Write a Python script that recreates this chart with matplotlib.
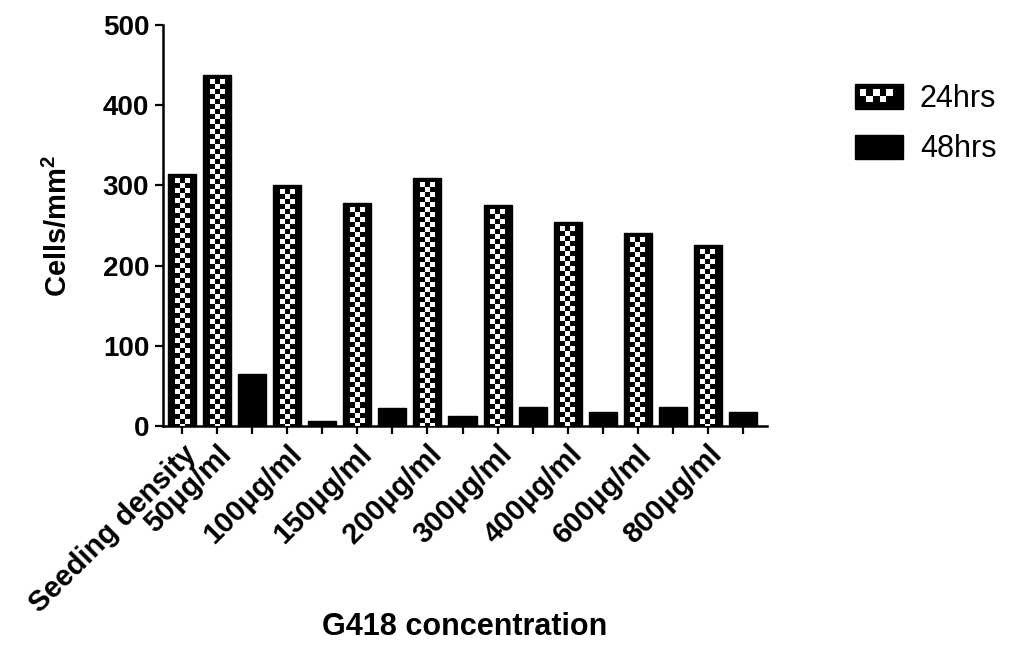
import numpy as np
import matplotlib.pyplot as plt
from matplotlib.patches import Rectangle
from matplotlib.legend_handler import HandlerBase

plt.rcParams["font.family"] = ["Liberation Sans", "DejaVu Sans"]
plt.rcParams["mathtext.fontset"] = "custom"
plt.rcParams["mathtext.rm"] = "Liberation Sans:bold"
plt.rcParams["mathtext.bf"] = "Liberation Sans:bold"

categories = ["Seeding density", "50μg/ml", "100μg/ml", "150μg/ml", "200μg/ml",
              "300μg/ml", "400μg/ml", "600μg/ml", "800μg/ml"]
cells_24h = [314, 438, 301, 278, 309, 276, 254, 241, 226]
cells_48h = [65, 6, 22, 12, 24, 17, 24, 17]  # no 48h count for seeding density
series_labels = ["24hrs", "48hrs"]
y_ticks = [0, 100, 200, 300, 400, 500]

# seeding density stands alone, then one 24h/48h pair per concentration
pos_24 = np.array([0] + [2 * i - 1 for i in range(1, len(categories))])
pos_48 = pos_24[1:] + 1
n_slots = pos_48[-1] + 1
bar_w = 0.8


class CheckerHandler(HandlerBase):
    """Legend key: black box with two staggered rows of white squares."""

    def create_artists(self, legend, orig_handle, xdescent, ydescent,
                       width, height, fontsize, trans):
        x0, y0 = -xdescent, -ydescent
        arts = [Rectangle((x0, y0), width, height, facecolor="black",
                          edgecolor="black", transform=trans)]
        cw, ch = 0.138 * width, 0.25 * height
        top = y0 + height * (1 - 0.215)
        for r, cols in ((0, (0, 2, 4)), (1, (1, 3))):
            for c in cols:
                arts.append(Rectangle((x0 + 0.1 * width + c * cw, top - (r + 1) * ch),
                                      cw, ch, facecolor="white", edgecolor="none",
                                      transform=trans))
        return arts


fig = plt.figure(figsize=(10.13, 6.46), dpi=100)
ax = fig.add_axes([0.161, 0.3406, 0.596, 0.6207])
ax.set_xlim(-0.54, n_slots - 1 + 0.68)
ax.set_ylim(0, 500)

bars24 = ax.bar(pos_24, cells_24h, width=bar_w, color="black",
                edgecolor="black", linewidth=1, zorder=2)
bars48 = ax.bar(pos_48, cells_48h, width=bar_w, color="black",
                edgecolor="black", linewidth=1, zorder=2)

# checker fill with squares of fixed pixel size
fig_w_px, fig_h_px = fig.get_size_inches() * fig.dpi
bb = ax.get_position()
px_x = bb.width * fig_w_px / np.diff(ax.get_xlim())[0]
px_y = bb.height * fig_h_px / np.diff(ax.get_ylim())[0]
sq = 5.0
sw, sh = sq / px_x, sq / px_y
ncol = 3
for rect in bars24:
    x0 = rect.get_x() + (rect.get_width() - ncol * sw) / 2
    top = rect.get_height() - 4.5 / px_y
    nrow = int(np.ceil(top / sh))
    rr, cc = np.indices((nrow, ncol))
    tile = ((rr + cc) % 2 == 0).astype(float)
    ax.imshow(tile, cmap="gray", vmin=0, vmax=1, interpolation="nearest",
              aspect="auto", extent=(x0, x0 + ncol * sw, top - nrow * sh, top),
              zorder=3, clip_path=rect)

ax.set_xlim(-0.54, n_slots - 1 + 0.68)
ax.set_ylim(0, 500)

tick_labels = [""] * n_slots
for p, c in zip(pos_24, categories):
    tick_labels[p] = c
ax.set_xticks(np.arange(n_slots))
ax.set_xticklabels(tick_labels, rotation=45, ha="right", rotation_mode="anchor",
                   fontsize=21, fontweight="bold")
ax.set_yticks(y_ticks)
ax.set_yticklabels([str(v) for v in y_ticks], fontsize=20, fontweight="bold")

for side in ("top", "right"):
    ax.spines[side].set_visible(False)
for side in ("left", "bottom"):
    ax.spines[side].set_linewidth(1.8)
ax.tick_params(direction="out", length=6, width=1.6, pad=4)

ax.set_xlabel("G418 concentration", fontsize=22, fontweight="bold")
ax.xaxis.set_label_coords(0.5, -0.465)
ax.set_ylabel(r"Cells/mm$^2$", fontsize=21, fontweight="bold")
ax.yaxis.set_label_coords(-0.15, 0.5)

ax.legend([bars24, bars48], series_labels, handler_map={bars24: CheckerHandler()},
          loc="upper left", bbox_to_anchor=(855 / 1013, 1 - 84 / 646),
          bbox_transform=fig.transFigure, frameon=False, borderpad=0,
          borderaxespad=0, handlelength=1.57, handleheight=0.85,
          handletextpad=0.55, labelspacing=0.67, prop={"size": 22})

fig.savefig("out.png", dpi=100)
